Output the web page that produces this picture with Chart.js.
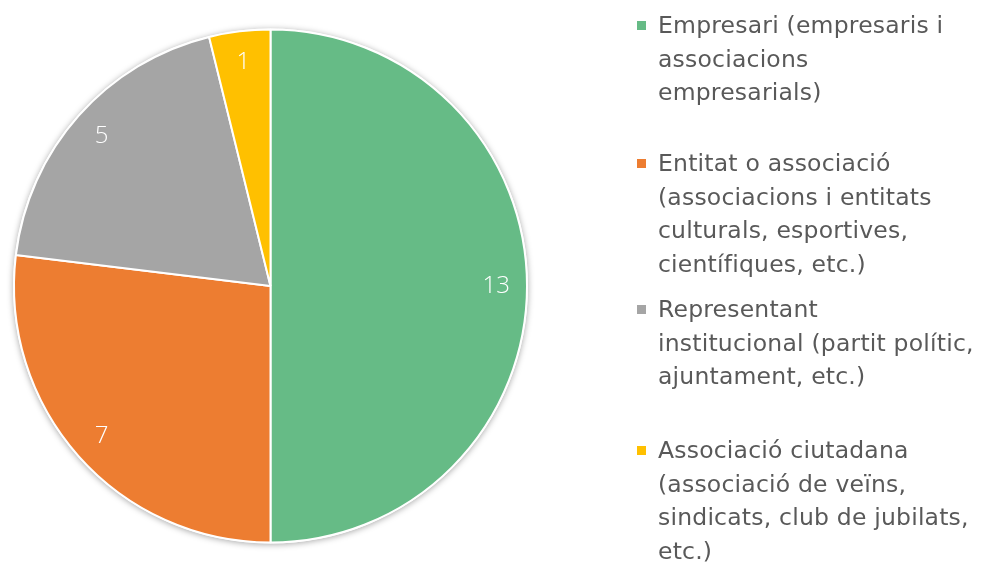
<!DOCTYPE html>
<html>
<head>
<meta charset="utf-8">
<script src="https://cdn.jsdelivr.net/npm/chart.js@4.4.0/dist/chart.umd.min.js"></script>
<style>
  html, body { margin:0; padding:0; background:#fff; }
  #wrap { position:relative; width:989px; height:562px; overflow:hidden; }
  #chartBox { position:absolute; left:0; top:0; width:545px; height:562px; }
  #legend { position:absolute; left:0; top:0; width:989px; height:562px; pointer-events:none;
    font-family:"DejaVu Sans", sans-serif; color:#595959; }
  .entry { position:absolute; left:658px; font-size:23.5px; line-height:33.5px; white-space:nowrap; letter-spacing:0.2px; }
  .sw { position:absolute; left:-21px; top:12px; width:9px; height:9px; }
</style>
</head>
<body>
<div id="wrap">
  <div id="chartBox"><canvas id="c"></canvas></div>
  <div id="legend"></div>
</div>
<script>
const categories = [
  "Empresari (empresaris i associacions empresarials)",
  "Entitat o associació (associacions i entitats culturals, esportives, científiques, etc.)",
  "Representant institucional (partit polític, ajuntament, etc.)",
  "Associació ciutadana (associació de veïns, sindicats, club de jubilats, etc.)"
];
const legendLines = [
  ["Empresari (empresaris i", "associacions", "empresarials)"],
  ["Entitat o associació", "(associacions i entitats", "culturals, esportives,", "científiques, etc.)"],
  ["Representant", "institucional (partit polític,", "ajuntament, etc.)"],
  ["Associació ciutadana", "(associació de veïns,", "sindicats, club de jubilats,", "etc.)"]
];
const values = [13, 7, 5, 1];
const colors = ["#66BB86", "#ED7D31", "#A5A5A5", "#FFC000"];
const legendTops = [9, 147, 293, 434];

// HTML legend built from data
const lg = document.getElementById('legend');
legendLines.forEach((lines, i) => {
  const d = document.createElement('div');
  d.className = 'entry';
  d.style.top = legendTops[i] + 'px';
  const sw = document.createElement('span');
  sw.className = 'sw';
  sw.style.background = colors[i];
  d.appendChild(sw);
  lines.forEach((t, j) => {
    if (j) d.appendChild(document.createElement('br'));
    d.appendChild(document.createTextNode(t));
  });
  lg.appendChild(d);
});

const shadowPlugin = {
  id: 'shadow',
  beforeDatasetsDraw(chart) {
    const meta = chart.getDatasetMeta(0);
    if (!meta.data.length) return;
    const a = meta.data[0];
    const ctx = chart.ctx;
    ctx.save();
    ctx.shadowColor = 'rgba(0,0,0,0.35)';
    ctx.shadowBlur = 6;
    ctx.shadowOffsetY = 1;
    ctx.beginPath();
    ctx.arc(a.x, a.y, a.outerRadius + 1, 0, Math.PI * 2);
    ctx.fillStyle = '#ffffff';
    ctx.fill();
    ctx.restore();
  }
};

const labelPlugin = {
  id: 'sliceLabels',
  afterDatasetsDraw(chart) {
    const meta = chart.getDatasetMeta(0);
    const ctx = chart.ctx;
    ctx.save();
    ctx.fillStyle = '#ffffff';
    ctx.font = '300 24px "Open Sans", "Lato", sans-serif';
    ctx.textAlign = 'center';
    ctx.textBaseline = 'middle';
    meta.data.forEach((arc, i) => {
      const mid = (arc.startAngle + arc.endAngle) / 2;
      const r = arc.outerRadius * 0.88;
      const x = arc.x + Math.cos(mid) * r;
      const y = arc.y + Math.sin(mid) * r;
      ctx.fillText(String(chart.data.datasets[0].data[i]), x, y);
    });
    ctx.restore();
  }
};

new Chart(document.getElementById('c'), {
  type: 'pie',
  data: {
    labels: categories,
    datasets: [{
      data: values,
      backgroundColor: colors,
      borderColor: '#ffffff',
      borderWidth: 2,
      hoverOffset: 0
    }]
  },
  options: {
    responsive: true,
    maintainAspectRatio: false,
    animation: false,
    layout: { padding: { left: 13, top: 28, right: 17, bottom: 18 } },
    plugins: {
      legend: { display: false },
      tooltip: { enabled: false }
    }
  },
  plugins: [shadowPlugin, labelPlugin]
});
</script>
</body>
</html>
